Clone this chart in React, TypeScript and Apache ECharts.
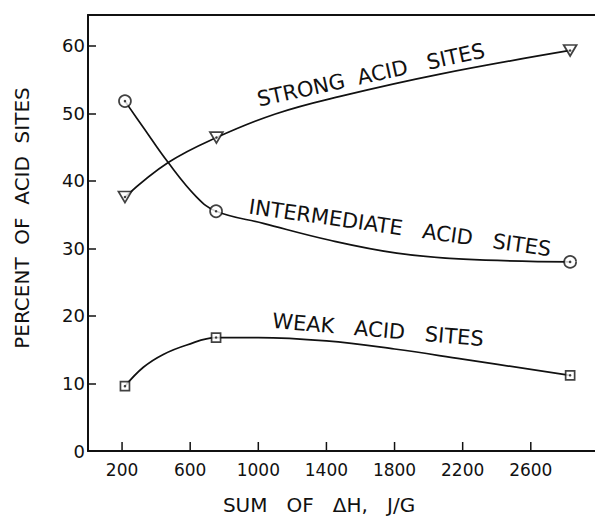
import React, { useEffect, useRef } from "react";
import * as echarts from "echarts";

// Measured points (x = sum of ΔH, J/g ; y = percent of acid sites)
const strongPoints: [number, number][] = [[217, 37.6], [754, 46.4], [2831, 59.3]];
const intermediatePoints: [number, number][] = [[217, 51.8], [752, 35.5], [2831, 28.0]];
const weakPoints: [number, number][] = [[217, 9.6], [752, 16.8], [2831, 11.2]];

// Fitted curves
const strongCurve: [number, number][] = [
  [217, 37.6], [471, 42.7], [754, 46.4], [1100, 49.9], [1480, 52.5], [2067, 55.8], [2831, 59.3],
];
const intermediateCurve: [number, number][] = [
  [217, 51.8], [325, 47.9], [471, 42.7], [638, 37.6], [752, 35.5], [1029, 33.7], [1421, 31.2],
  [1813, 29.3], [2204, 28.4], [2831, 28.0],
];
const weakCurve: [number, number][] = [
  [217, 9.6], [325, 12.4], [442, 14.3], [580, 15.7], [752, 16.8], [1000, 16.8], [1400, 16.3],
  [1800, 15.1], [2200, 13.6], [2831, 11.2],
];

const xTickLabels = [200, 600, 1000, 1400, 1800, 2200, 2600];
const yTickLabels = [0, 10, 20, 30, 40, 50, 60];

const FONT = "DejaVu Sans";
const INK = "#111";

export default function App() {
  const ref = useRef<HTMLDivElement>(null);
  useEffect(() => {
    if (!ref.current) return;
    const chart = echarts.init(ref.current, null, { renderer: "svg" });
    const curve = (name: string, data: [number, number][]) => ({
      name,
      type: "line",
      data,
      smooth: 0.4,
      showSymbol: false,
      symbol: "none",
      lineStyle: { color: INK, width: 1.7 },
      z: 2,
    });
    const marker = (data: [number, number][], symbol: string, size: number | number[]) => ({
      type: "scatter",
      data,
      symbol,
      symbolSize: size,
      itemStyle: { color: "#fff", borderColor: INK, borderWidth: 1.7 },
      z: 3,
    });
    const dots = (data: [number, number][]) => ({
      type: "scatter",
      data,
      symbol: "circle",
      symbolSize: 2.5,
      itemStyle: { color: INK },
      z: 4,
    });
    const label = (text: string, x: number, y: number, rotation: number, fontSize: number) => ({
      type: "text",
      x,
      y,
      rotation,
      style: {
        text,
        fontFamily: FONT,
        fontSize,
        fill: INK,
        align: "center",
        verticalAlign: "middle",
      },
    });
    chart.setOption({
      animation: false,
      backgroundColor: "#fff",
      grid: { left: 88, right: 0, top: 15, bottom: 65, containLabel: false },
      xAxis: [
        {
          type: "value",
          min: 0,
          max: 2977,
          interval: 200,
          axisLine: { show: true, lineStyle: { color: INK, width: 2 } },
          axisTick: { show: false },
          splitLine: { show: false },
          axisLabel: {
            color: INK,
            fontFamily: FONT,
            fontSize: 17,
            margin: 10,
            showMaxLabel: false,
            formatter: (v: number) => (xTickLabels.indexOf(v) >= 0 ? String(v) : ""),
          },
        },
        {
          type: "value",
          position: "top",
          min: 0,
          max: 2977,
          axisLine: { show: true, lineStyle: { color: INK, width: 2 } },
          axisTick: { show: false },
          axisLabel: { show: false },
          splitLine: { show: false },
        },
      ],
      yAxis: {
        type: "value",
        min: 0,
        max: 64.55,
        interval: 10,
        axisLine: { show: true, lineStyle: { color: INK, width: 2 } },
        axisTick: { show: true, inside: true, length: 8, lineStyle: { color: INK, width: 1.5 } },
        splitLine: { show: false },
        axisLabel: {
          color: INK,
          fontFamily: FONT,
          fontSize: 18,
          margin: 3,
          showMaxLabel: false,
          formatter: (v: number) => (yTickLabels.indexOf(v) >= 0 ? String(v) : ""),
        },
      },
      series: [
        {
          type: "custom",
          data: xTickLabels.map((v) => [v]),
          renderItem: (_params: any, api: any) => {
            const p = api.coord([api.value(0), 0]);
            return {
              type: "line",
              shape: { x1: p[0], y1: p[1], x2: p[0], y2: p[1] - 9 },
              style: { stroke: INK, lineWidth: 1.5 },
            };
          },
          z: 1,
        },
        curve("strong", strongCurve),
        curve("intermediate", intermediateCurve),
        curve("weak", weakCurve),
        marker(strongPoints, "path://M0,0L12,0L6,10Z", [13, 11]),
        marker(intermediatePoints, "circle", 12),
        marker(weakPoints, "rect", 9),
        dots(strongPoints),
        dots(intermediatePoints),
        dots(weakPoints),
      ],
      graphic: [
        label("STRONG  ACID   SITES", 371, 75, 0.215, 21),
        label("INTERMEDIATE   ACID   SITES", 400, 228, -0.14, 21),
        label("WEAK   ACID   SITES", 378, 330, -0.086, 21),
        label("PERCENT  OF  ACID  SITES", 22, 218, Math.PI / 2, 20),
        label("SUM   OF   ΔH,   J/G", 319, 505, 0, 20),
      ],
    });
    return () => chart.dispose();
  }, []);
  return (
    <div
      ref={ref}
      style={{ position: "fixed", left: 0, top: 0, width: 595, height: 516 }}
    />
  );
}
